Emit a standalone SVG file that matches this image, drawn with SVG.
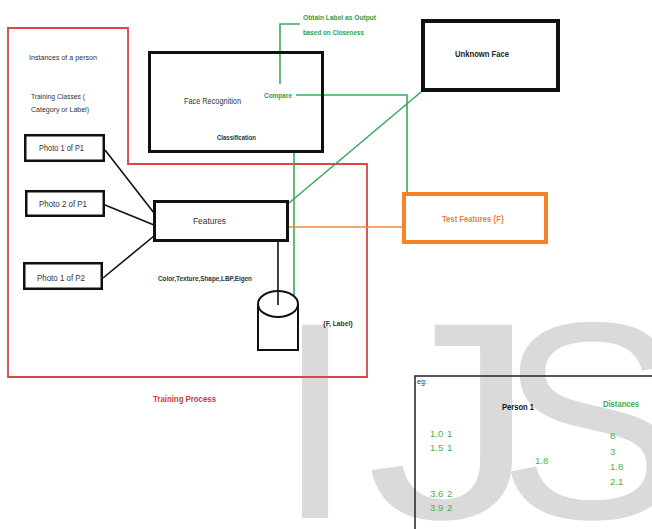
<svg xmlns="http://www.w3.org/2000/svg" width="652" height="529" viewBox="0 0 652 529">
  <style>
    text { font-family: "Liberation Sans", Arial, sans-serif; }
    .box { fill: #ffffff; stroke: #111111; }
    .lbl { fill: #333333; font-size: 8.5px; }
    .small { fill: #333333; font-size: 7px; }
    .bold { font-weight: bold; }
    .green { fill: #2f9e4c; }
    .num { fill: #4caf50; font-size: 9.5px; }
    .gline { fill: none; stroke: #3aaa5a; stroke-width: 1.6; }
    .bline { fill: none; stroke: #111111; stroke-width: 1.6; }
    .wm { font-size: 281px; fill: #dadada; }
  </style>

  <!-- background -->
  <rect x="0" y="0" width="652" height="529" fill="#ffffff"/>

  <!-- watermark -->
  <g id="watermark">
    <text class="wm" x="276" y="518">I</text>
    <text class="wm" transform="translate(366,518) scale(1.22,1)">J</text>
    <text class="wm" x="498" y="518">S</text>
  </g>

  <!-- training area outline -->
  <g id="training-area">
    <polygon points="8,28 128,28 128,164 367,164 367,377 8,377" fill="none" stroke="#d9454a" stroke-width="1.8"/>
    <text x="153" y="402" font-size="8.5" font-weight="bold" fill="#d03a40" textLength="63" lengthAdjust="spacingAndGlyphs">Training Process</text>
  </g>

  <!-- connectors -->
  <g id="connectors">
    <line class="bline" x1="105" y1="150" x2="154" y2="213"/>
    <line class="bline" x1="105" y1="205" x2="154" y2="225"/>
    <line class="bline" x1="103" y1="278" x2="154" y2="236"/>
    <line class="bline" x1="278" y1="242" x2="278" y2="305"/>
    <line class="gline" x1="294" y1="153" x2="294" y2="296"/>
    <polyline class="gline" points="296,95 407,95 407,192"/>
    <polyline class="gline" points="280,84 280,24 300,24"/>
    <line class="gline" x1="421" y1="92" x2="289" y2="203"/>
    <line x1="289" y1="227" x2="402" y2="227" stroke="#f0883a" stroke-width="1.6"/>
  </g>

  <!-- side notes -->
  <g id="notes">
    <text class="small" x="29" y="60" textLength="68" lengthAdjust="spacingAndGlyphs">Instances of a person</text>
    <text class="small" x="31" y="99" textLength="54" lengthAdjust="spacingAndGlyphs">Training Classes (</text>
    <text class="small" x="31" y="112" textLength="58" lengthAdjust="spacingAndGlyphs">Category or Label)</text>
    <text class="small bold" x="158" y="281" fill="#222" textLength="94" lengthAdjust="spacingAndGlyphs">Color,Texture,Shape,LBP,Eigen</text>
    <text class="small bold" x="323" y="326" fill="#222" font-size="6.5" textLength="30" lengthAdjust="spacingAndGlyphs">{F, Label}</text>
    <text class="green bold" x="303" y="20" font-size="7.5" textLength="73" lengthAdjust="spacingAndGlyphs">Obtain Label as Output</text>
    <text class="green bold" x="303" y="35" font-size="7.5" textLength="61" lengthAdjust="spacingAndGlyphs">based on Closeness</text>
  </g>

  <!-- photo nodes -->
  <g id="photo-1-p1">
    <rect class="box" x="25.25" y="135.25" width="78.5" height="25.5" stroke-width="2.5"/>
    <text class="lbl" x="39" y="151" font-size="9" textLength="45" lengthAdjust="spacingAndGlyphs">Photo 1 of P1</text>
  </g>
  <g id="photo-2-p1">
    <rect class="box" x="26.25" y="191.25" width="77.5" height="24.5" stroke-width="2.5"/>
    <text class="lbl" x="39" y="207" font-size="9" textLength="48" lengthAdjust="spacingAndGlyphs">Photo 2 of P1</text>
  </g>
  <g id="photo-1-p2">
    <rect class="box" x="24.25" y="263.25" width="77.5" height="25.5" stroke-width="2.5"/>
    <text class="lbl" x="37" y="281" font-size="9" textLength="48" lengthAdjust="spacingAndGlyphs">Photo 1 of P2</text>
  </g>

  <!-- features -->
  <g id="features">
    <rect class="box" x="154.5" y="201.5" width="133" height="39" stroke-width="3"/>
    <text class="lbl" x="193" y="224" font-size="10" textLength="33" lengthAdjust="spacingAndGlyphs">Features</text>
  </g>

  <!-- face recognition -->
  <g id="face-recognition">
    <rect x="149.5" y="52.5" width="173" height="99" fill="none" stroke="#111" stroke-width="3"/>
    <text class="lbl" x="184" y="104" font-size="9.5" textLength="57" lengthAdjust="spacingAndGlyphs">Face Recognition</text>
    <text class="small bold" x="217" y="140" fill="#222" textLength="39" lengthAdjust="spacingAndGlyphs">Classification</text>
    <text class="green bold" x="264" y="98" font-size="7.5" textLength="28" lengthAdjust="spacingAndGlyphs">Compare</text>
  </g>

  <!-- unknown face -->
  <g id="unknown-face">
    <rect class="box" x="423" y="21" width="135" height="69" stroke-width="4"/>
    <text x="455" y="57" font-size="9.5" font-weight="bold" fill="#222" textLength="54" lengthAdjust="spacingAndGlyphs">Unknown Face</text>
  </g>

  <!-- test features -->
  <g id="test-features">
    <rect x="404" y="194" width="142" height="48" fill="#ffffff" stroke="#f58426" stroke-width="4"/>
    <text x="442" y="222" font-size="8.5" font-weight="bold" fill="#e8823a" textLength="62" lengthAdjust="spacingAndGlyphs">Test Features {F}</text>
  </g>

  <!-- feature store -->
  <g id="feature-store">
    <path d="M258,304 L258,350 L298,350 L298,304" fill="#ffffff" stroke="#111" stroke-width="2"/>
    <ellipse cx="278" cy="304" rx="20" ry="13" fill="#ffffff" stroke="#111" stroke-width="2"/>
    <line class="bline" x1="278" y1="291" x2="278" y2="305"/>
  </g>

  <!-- example panel -->
  <g id="example">
    <path d="M652,376 L415,376 L415,529" fill="none" stroke="#222" stroke-width="1.5"/>
    <text class="small" x="417" y="384" fill="#444" font-size="7.5">eg:</text>
    <text x="502" y="410" font-size="9" font-weight="bold" fill="#111" textLength="32" lengthAdjust="spacingAndGlyphs">Person 1</text>
    <text x="603" y="407" font-size="9" font-weight="bold" fill="#3aaa5a" textLength="36" lengthAdjust="spacingAndGlyphs">Distances</text>
    <text class="num" x="430" y="437">1.0</text>
    <text class="num" x="447" y="437">1</text>
    <text class="num" x="430" y="451">1.5</text>
    <text class="num" x="447" y="451">1</text>
    <text class="num" x="430" y="497">3.6</text>
    <text class="num" x="447" y="497">2</text>
    <text class="num" x="430" y="511">3.9</text>
    <text class="num" x="447" y="511">2</text>
    <text class="num" x="535" y="464">1.8</text>
    <text class="num" x="610" y="439">8</text>
    <text class="num" x="610" y="455">3</text>
    <text class="num" x="610" y="470">1.8</text>
    <text class="num" x="610" y="485">2.1</text>
  </g>
</svg>
